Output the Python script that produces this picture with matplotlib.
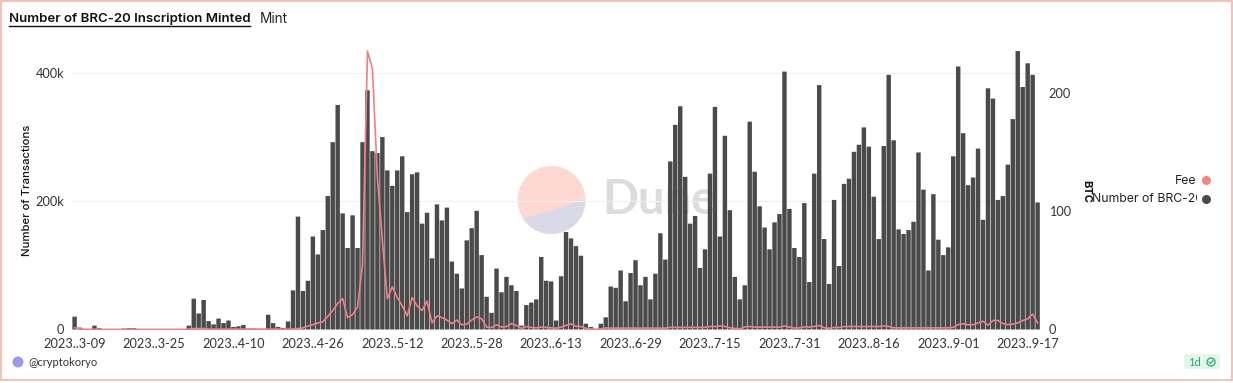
import numpy as np
import matplotlib
matplotlib.use('Agg')
import matplotlib.pyplot as plt
from matplotlib.patches import Circle, FancyBboxPatch, Rectangle, Polygon

W, H = 1233, 383

tick_labels = ['2023..3-09', '2023..3-25', '2023..4-10', '2023..4-26', '2023..5-12', '2023..5-28', '2023..6-13',
               '2023..6-29', '2023..7-15', '2023..7-31', '2023..8-16', '2023..9-01', '2023..9-17']
left_ticks = [0, 200000, 400000]
left_labels = ['0', '200k', '400k']
right_ticks = [0, 100, 200]

# daily mints, thousands
mints_k = [20, 3, 1, 0.5, 6, 2, 0.3, 0.3, 0.3, 0.3,
           1.5, 2, 2, 0.3, 0.3, 0.3, 0.3, 0.3, 0.3, 0.3,
           0.3, 0.3, 0.3, 6, 48, 25, 46, 13, 8, 17,
           10, 14, 4, 5, 7, 1.5, 1.5, 1, 1, 23,
           10, 4, 2.5, 12.5, 61, 176, 60, 76, 145, 117,
           155, 208, 292, 350, 181, 127, 178, 127, 292, 373,
           278, 275, 300, 248, 224, 248, 270, 183, 242, 245,
           165, 182, 111, 195, 170, 190, 106, 87, 64, 139,
           158, 185, 116, 51, 26, 95, 58, 82, 69, 60,
           6, 38, 42, 47, 113, 76, 75, 14, 83, 152,
           142, 130, 115, 9, 4, 0.5, 9, 19, 67, 65,
           92, 44, 88, 108, 69, 82, 47, 87, 150, 109,
           262, 319, 348, 238, 165, 177, 96, 125, 243, 347,
           145, 302, 186, 82, 47, 69, 324, 246, 192, 159,
           125, 167, 180, 402, 188, 127, 113, 197, 74, 243,
           381, 141, 71, 202, 99, 227, 235, 277, 288, 315,
           285, 207, 141, 286, 397, 295, 156, 149, 155, 168,
           276, 218, 92, 211, 140, 116, 128, 270, 410, 306,
           225, 237, 282, 171, 376, 360, 202, 208, 257, 328,
           434, 378, 415, 397, 198]

# fee in BTC
fee = [1.5, 0.5, 0.1, 0.1, 0.2, 0.1, 0.1, 0.1, 0.1, 0.1,
       0.1, 0.1, 0.1, 0.1, 0.1, 0.1, 0.1, 0.1, 0.1, 0.1,
       0.1, 0.1, 0.1, 0.3, 0.8, 0.8, 0.8, 0.3, 0.3, 0.3,
       0.3, 0.3, 0.3, 0.3, 0.3, 0.3, 0.3, 0.3, 0.3, 0.3,
       0.3, 0.3, 0.3, 0.3, 0.4, 0.8, 1.4, 3, 4, 5.5,
       6.5, 11, 16, 22, 26, 10, 12.6, 19, 55, 235,
       220, 128, 75, 26, 36, 27, 20, 11.5, 27, 20,
       16, 24, 5.6, 11.5, 10, 8, 5, 8, 4, 4.5,
       8, 10.7, 9, 2, 1.7, 4, 2, 2.5, 5, 3.4,
       1, 2.5, 1.7, 1.4, 2, 1.7, 1.4, 1.1, 2, 3.4,
       4.8, 2.8, 2.5, 1, 0.5, 0.2, 0.5, 1.3, 1.2, 1.2,
       1.2, 1.2, 1.2, 1.2, 1.2, 1.2, 1.2, 1.2, 1.2, 1.2,
       1.8, 1.8, 1.8, 1.8, 1.8, 1.8, 1.8, 1.8, 2.5, 2.5,
       3, 2.5, 1.5, 1, 0.5, 2.2, 2.5, 2, 2, 2,
       2, 2, 2, 3, 2, 1.2, 1.4, 2.2, 2, 2.5,
       3.4, 1.5, 1, 1.7, 1.7, 2.5, 2.5, 2.5, 2.5, 2.5,
       2.5, 2.5, 2.5, 3, 2.5, 1.4, 1.4, 1.4, 1.4, 1.4,
       1.4, 1.4, 1.4, 1.4, 1.4, 1.4, 1.4, 1.8, 4.2, 4.8,
       4, 4, 5.6, 7, 3.6, 7.6, 7.6, 5, 4.2, 4.5,
       5.6, 7.6, 9, 13, 5.6]

font = 'Lato'
title_font = 'Inter'
ink = '#333333'
x = np.arange(len(mints_k))

fig = plt.figure(figsize=(W / 100, H / 100), dpi=100, facecolor='white')

# pixel canvas behind the chart for frame and watermark
bg = fig.add_axes([0, 0, 1, 1], zorder=0)
bg.set_xlim(0, W)
bg.set_ylim(H, 0)
bg.axis('off')
bg.add_patch(Rectangle((1, 1), W - 2.5, H - 4, fc='none', ec='#eeb7ab', lw=1.2))
bg.add_patch(Circle((551.5, 200), 34, fc='#fdd9d2', ec='none'))
# lower part of the logo sits under a tilted chord
logo_low = Circle((551.5, 200), 34, fc='#d9d9e8', ec='none')
bg.add_patch(logo_low)
chord = Polygon([(500, 226), (600, 195), (600, 250), (500, 250)], transform=bg.transData, fc='none', ec='none')
bg.add_patch(chord)
logo_low.set_clip_path(chord)
bg.text(602, 200, 'Dune', fontsize=34, family='Lato', weight='bold', color='#dcdcdc', va='center', ha='left')

x0 = 72.0
per_bar = 4.964
ax_left, ax_right = x0, 1041.0
ax_top, ax_bottom = 46.0, 329.5
ax = fig.add_axes([ax_left / W, 1 - ax_bottom / H, (ax_right - ax_left) / W, (ax_bottom - ax_top) / H], zorder=2)
ax.patch.set_alpha(0)
bars = ax.bar(x, np.array(mints_k) * 1000, width=0.89, color='#4a4a4a', zorder=2)
for b in bars:
    b.set_snap(False)
ax.set_xlim((ax_left - 74.6) / per_bar, (ax_right - 74.6) / per_bar)
ax.set_ylim(0, (ax_bottom - ax_top) / 128.3 * 200000)
ax.set_yticks(left_ticks)
ax.set_yticklabels(left_labels, fontsize=9.2, family=font, color=ink)
ax.set_xticks(np.arange(len(tick_labels)) * 16)
ax.set_xticklabels(tick_labels, fontsize=9.2, family=font, color=ink)
ax.tick_params(axis='both', length=0)
ax.tick_params(axis='x', pad=6)
ax.tick_params(axis='y', pad=5.5)
ax.grid(axis='y', color='#efefef', lw=0.8, zorder=0)
ax.set_axisbelow(True)
for s in ax.spines.values():
    s.set_visible(False)

ax2 = ax.twinx()
ax2.set_zorder(3)
ax2.plot(x, fee, color='#ef8085', lw=1.2, solid_joinstyle='round')
ax2.set_ylim(0, (ax_bottom - ax_top) / 118.5 * 100)
ax2.set_yticks(right_ticks)
ax2.set_yticklabels([str(t) for t in right_ticks], fontsize=9.2, family=font, color=ink)
ax2.tick_params(axis='y', length=0, pad=5.5)
for s in ax2.spines.values():
    s.set_visible(False)

# overlay for text placed by pixel
top = fig.add_axes([0, 0, 1, 1], zorder=5)
top.set_xlim(0, W)
top.set_ylim(H, 0)
top.axis('off')
top.patch.set_alpha(0)
top.text(9, 19, 'Number of BRC-20 Inscription Minted', fontsize=9.55, family=title_font, weight='semibold',
         color='#111111', va='center')
top.plot([9, 250], [26, 26], color='#111111', lw=1)
top.text(260, 19, 'Mint', fontsize=9.8, family=title_font, color='#222222', va='center')
top.text(27, 190, 'Number of Transactions', fontsize=8.2, family=title_font, weight='medium', color='#111111',
         rotation=90, va='center', ha='center')
top.text(1086, 191, 'BTC', fontsize=8, family=title_font, weight='bold', color='#111111',
         rotation=270, va='center', ha='center')
top.text(1196.5, 180.5, 'Fee', fontsize=8.8, family=title_font, color='#222222', va='center', ha='right')
clip = Rectangle((1090, 190), 106.5, 20, transform=top.transData)
t = top.text(1091.5, 199.5, 'Number of BRC-20', fontsize=8.8, family=title_font, color='#222222', va='center')
t.set_clip_path(clip)
t.set_clip_on(True)
top.add_patch(Circle((1206.5, 180.5), 4.5, fc='#fb8282', ec='none'))
top.add_patch(Circle((1206.5, 199.5), 4.5, fc='#4a4a4a', ec='none'))
top.add_patch(Circle((18, 362), 5.5, fc='#9a9ae8', ec='none'))
top.text(28, 362, '@cryptokoryo', fontsize=8, family=font, color='#333333', va='center')
top.add_patch(FancyBboxPatch((1184, 354), 36, 15, boxstyle='round,pad=0,rounding_size=3', fc='#e3f6ec', ec='none'))
top.text(1188, 362, '1d', fontsize=8, family=font, color='#2ca86a', va='center')
top.add_patch(Circle((1211, 362), 4, fc='none', ec='#2ca86a', lw=0.9))
top.plot([1209, 1210.5, 1213], [362, 363.5, 360.5], color='#2ca86a', lw=0.8)

fig.savefig('out.png', dpi=100)
